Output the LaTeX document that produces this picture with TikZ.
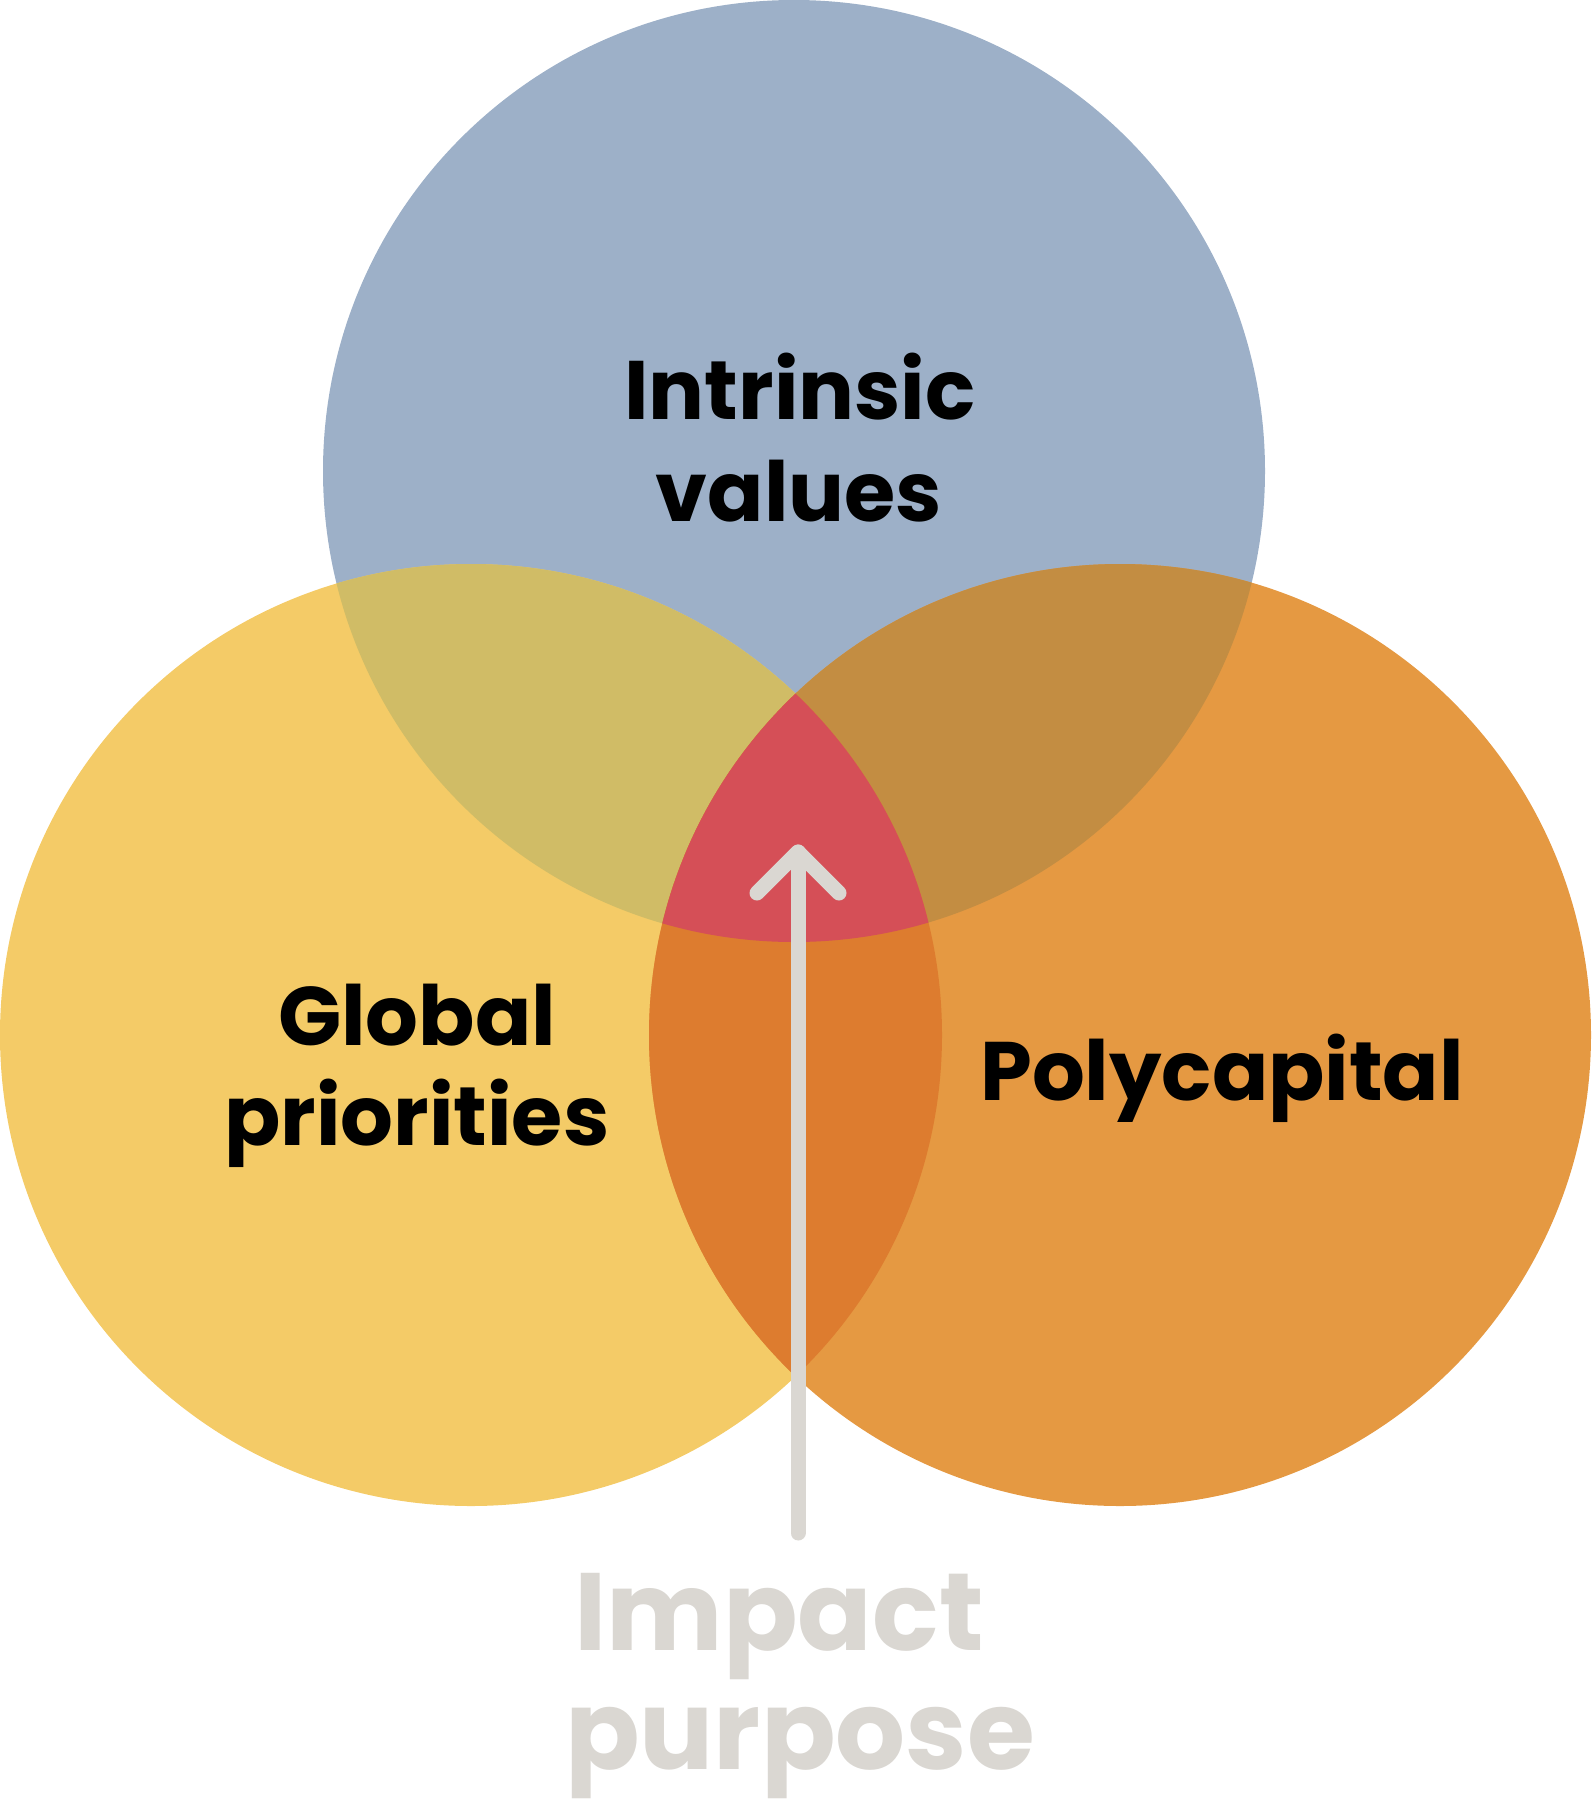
\documentclass[tikz,border=0pt]{standalone}
\usepackage{fontspec}
\setmainfont{Poppins}
\definecolor{cblue}{HTML}{9DB0C8}
\definecolor{cyel}{HTML}{F4CB67}
\definecolor{cora}{HTML}{E59942}
\definecolor{cby}{HTML}{D0BC66}
\definecolor{cbo}{HTML}{C38D42}
\definecolor{cyo}{HTML}{DD7C2F}
\definecolor{cmid}{HTML}{D54F57}
\definecolor{cgray}{HTML}{DAD7D2}
\begin{document}
\begin{tikzpicture}[x=1pt,y=-1pt,
  lbl/.style={inner sep=0pt,anchor=base,font=\fontsize{83}{100}\selectfont\bfseries,text=black},
  biglbl/.style={inner sep=0pt,anchor=base,font=\fontsize{110}{124}\selectfont\bfseries,text=cgray},
  arrowline/.style={draw=cgray,line width=15pt,line cap=round,line join=round}]
\useasboundingbox (0,0) rectangle (1591,1805);
\coordinate (T) at (794,471);
\coordinate (L) at (471,1035);
\coordinate (R) at (1120,1035);
\def\rr{471pt}
\fill[cblue] (T) circle[radius=\rr];
\fill[cyel] (L) circle[radius=\rr];
\fill[cora] (R) circle[radius=\rr];
\begin{scope}\clip (T) circle[radius=\rr]; \fill[cby] (L) circle[radius=\rr];\end{scope}
\begin{scope}\clip (T) circle[radius=\rr]; \fill[cbo] (R) circle[radius=\rr];\end{scope}
\begin{scope}\clip (L) circle[radius=\rr]; \fill[cyo] (R) circle[radius=\rr];\end{scope}
\begin{scope}\clip (T) circle[radius=\rr]; \clip (L) circle[radius=\rr]; \fill[cmid] (R) circle[radius=\rr];\end{scope}
% labels
\node[lbl] (intr) at (800,419) {Intrinsic};
\node[lbl] (vals) at (799,521) {values};
\node[lbl] (glob) at (417,1045) {Global};
\node[lbl] (prio) at (417,1145) {priorities};
\node[lbl] (poly) at (1222,1100) {Polycapital};
\node[biglbl] (imp) at (779,1650) {Impact};
\node[biglbl] (purp) at (800,1769) {purpose};
% arrow
\coordinate (tail) at (798,1533);
\coordinate (tip) at (798,852);
\coordinate (armL) at (757,893);
\coordinate (armR) at (839,893);
\draw[arrowline] (tail) -- (tip);
\draw[arrowline] (armL) -- (tip) -- (armR);
\end{tikzpicture}
\end{document}
